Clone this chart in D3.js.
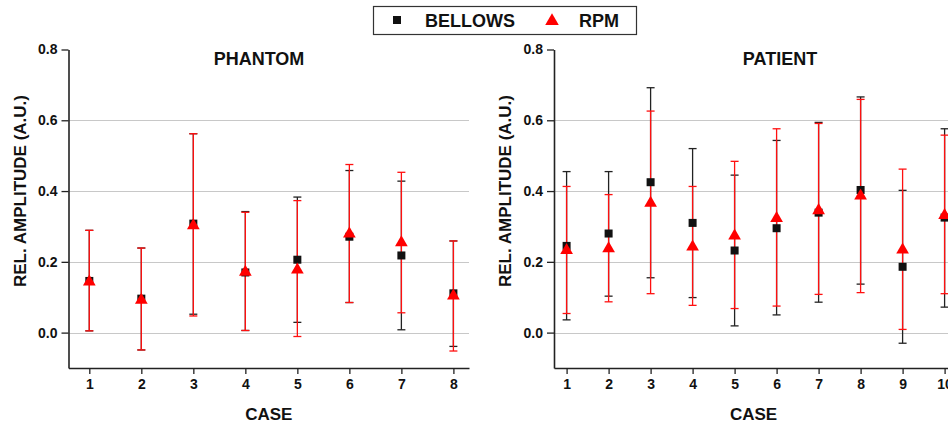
<!DOCTYPE html>
<html>
<head>
<meta charset="utf-8">
<script src="https://cdn.jsdelivr.net/npm/d3@7"></script>
<style>
  body { margin: 0; background: #fff; }
  svg text { font-family: "Liberation Sans", Arial, sans-serif; font-weight: bold; fill: #111; }
  .grid line { stroke: #c8c8c8; stroke-width: 1; }
  .axis path, .axis line { stroke: #222; }
  .axis path { stroke-width: 1.6; }
  .axis line { stroke-width: 1.3; }
</style>
</head>
<body>
<div id="viz_container"></div>
<script>
// data
const phantomCases = [1, 2, 3, 4, 5, 6, 7, 8];
const phantomBellows = [0.146, 0.096, 0.308, 0.170, 0.206, 0.271, 0.218, 0.111];
const phantomBellowsLo = [0.005, -0.049, 0.052, 0.006, 0.029, 0.085, 0.008, -0.039];
const phantomBellowsHi = [0.289, 0.239, 0.562, 0.342, 0.383, 0.458, 0.428, 0.259];
const phantomRpm = [0.146, 0.095, 0.305, 0.174, 0.180, 0.282, 0.257, 0.107];
const phantomRpmLo = [0.005, -0.049, 0.047, 0.006, -0.011, 0.085, 0.056, -0.052];
const phantomRpmHi = [0.289, 0.239, 0.562, 0.340, 0.373, 0.475, 0.453, 0.259];

const patientCases = [1, 2, 3, 4, 5, 6, 7, 8, 9, 10];
const patientBellows = [0.245, 0.280, 0.425, 0.310, 0.232, 0.295, 0.339, 0.403, 0.186, 0.325];
const patientBellowsLo = [0.036, 0.103, 0.155, 0.099, 0.019, 0.050, 0.086, 0.137, -0.030, 0.072];
const patientBellowsHi = [0.455, 0.455, 0.692, 0.520, 0.445, 0.543, 0.594, 0.666, 0.402, 0.576];
const patientRpm = [0.235, 0.240, 0.369, 0.245, 0.276, 0.326, 0.348, 0.389, 0.237, 0.334];
const patientRpmLo = [0.054, 0.087, 0.110, 0.077, 0.068, 0.075, 0.108, 0.113, 0.009, 0.110];
const patientRpmHi = [0.413, 0.390, 0.626, 0.413, 0.484, 0.576, 0.591, 0.659, 0.462, 0.558];

const yTicks = [0.0, 0.2, 0.4, 0.6, 0.8];
const gridTicks = [0.0, 0.2, 0.4, 0.6];

const svg = d3.select("#viz_container")
  .append("svg")
    .attr("width", 948)
    .attr("height", 425);

const yScale = d3.scaleLinear().domain([-0.1, 0.8]).range([368, 49.5]);

function panel(opts) {
  const xScale = d3.scaleLinear().domain(opts.xDomain).range(opts.xRange);
  const g = svg.append("g");

  // horizontal grid lines
  g.append("g")
    .attr("class", "grid")
    .selectAll("line")
    .data(gridTicks)
    .join("line")
      .attr("x1", opts.xRange[0])
      .attr("x2", opts.xRange[1])
      .attr("y1", d => Math.round(yScale(d)) + 0.5)
      .attr("y2", d => Math.round(yScale(d)) + 0.5);

  // axes
  g.append("g")
    .attr("class", "axis")
    .attr("transform", `translate(${opts.xRange[0]},0)`)
    .call(d3.axisLeft(yScale).tickValues(yTicks).tickFormat(d3.format(".1f")).tickSizeInner(7).tickSizeOuter(0).tickPadding(4))
    .call(a => a.selectAll("text").style("font-size", "14px").style("font-family", "Liberation Sans, Arial").style("font-weight", "bold").attr("fill", "#111"));

  g.append("g")
    .attr("class", "axis")
    .attr("transform", `translate(0,${yScale(-0.1)})`)
    .call(d3.axisBottom(xScale).tickValues(opts.cases).tickFormat(d3.format("d")).tickSizeInner(6).tickSizeOuter(0).tickPadding(5))
    .call(a => a.selectAll("text").style("font-size", "14px").style("font-family", "Liberation Sans, Arial").style("font-weight", "bold").attr("fill", "#111"));

  // error bars, black first then red on top
  const series = [
    {lo: opts.bLo, hi: opts.bHi, color: "#222"},
    {lo: opts.rLo, hi: opts.rHi, color: "#ff1010"}
  ];
  series.forEach(s => {
    const eg = g.append("g").attr("stroke", s.color).attr("stroke-width", 1.3);
    eg.append("g").selectAll("line")
      .data(opts.cases)
      .join("line")
        .attr("x1", (d) => xScale(d))
        .attr("x2", (d) => xScale(d))
        .attr("y1", (d, i) => yScale(s.lo[i]))
        .attr("y2", (d, i) => yScale(s.hi[i]));
    eg.append("g").selectAll("line")
      .data(opts.cases)
      .join("line")
        .attr("x1", (d) => xScale(d) - 4)
        .attr("x2", (d) => xScale(d) + 4)
        .attr("y1", (d, i) => yScale(s.hi[i]))
        .attr("y2", (d, i) => yScale(s.hi[i]));
    eg.append("g").selectAll("line")
      .data(opts.cases)
      .join("line")
        .attr("x1", (d) => xScale(d) - 4)
        .attr("x2", (d) => xScale(d) + 4)
        .attr("y1", (d, i) => yScale(s.lo[i]))
        .attr("y2", (d, i) => yScale(s.lo[i]));
  });

  // markers
  g.append("g").selectAll("rect")
    .data(opts.cases)
    .join("rect")
      .attr("x", d => xScale(d) - 4)
      .attr("y", (d, i) => yScale(opts.bellows[i]) - 4)
      .attr("width", 8)
      .attr("height", 8)
      .attr("fill", "#111");

  const tri = d3.symbol().type(d3.symbolTriangle).size(70);
  g.append("g").selectAll("path")
    .data(opts.cases)
    .join("path")
      .attr("d", tri)
      .attr("transform", (d, i) => `translate(${xScale(d)},${yScale(opts.rpm[i]) + 1})`)
      .attr("fill", "#ff0000");

  // titles
  g.append("text")
    .attr("x", opts.titleX)
    .attr("y", 65)
    .attr("text-anchor", "middle")
    .style("font-size", "18px")
    .text(opts.title);

  g.append("text")
    .attr("x", (opts.xRange[0] + opts.xRange[1]) / 2)
    .attr("y", 420)
    .attr("text-anchor", "middle")
    .style("font-size", "17px")
    .text("CASE");

  g.append("text")
    .attr("transform", `translate(${opts.yLabelX},${yScale(0.4)}) rotate(-90)`)
    .attr("text-anchor", "middle")
    .style("font-size", "17px")
    .text("REL. AMPLITUDE (A.U.)");
}

panel({
  title: "PHANTOM", titleX: 259, yLabelX: 26,
  cases: phantomCases, xDomain: [0.6, 8.3], xRange: [68.5, 469],
  bellows: phantomBellows, bLo: phantomBellowsLo, bHi: phantomBellowsHi,
  rpm: phantomRpm, rLo: phantomRpmLo, rHi: phantomRpmHi
});

panel({
  title: "PATIENT", titleX: 780, yLabelX: 511,
  cases: patientCases, xDomain: [0.7, 10.2], xRange: [554, 953],
  bellows: patientBellows, bLo: patientBellowsLo, bHi: patientBellowsHi,
  rpm: patientRpm, rLo: patientRpmLo, rHi: patientRpmHi
});

// legend
const legend = svg.append("g");
legend.append("rect")
  .attr("x", 373.5).attr("y", 6.5)
  .attr("width", 263).attr("height", 28)
  .attr("fill", "#fff").attr("stroke", "#333").attr("stroke-width", 1.2);
legend.append("rect")
  .attr("x", 393).attr("y", 16).attr("width", 8).attr("height", 8).attr("fill", "#111");
legend.append("text")
  .attr("x", 425).attr("y", 27).style("font-size", "18px").text("BELLOWS");
legend.append("path")
  .attr("d", d3.symbol().type(d3.symbolTriangle).size(80))
  .attr("transform", "translate(552,21)")
  .attr("fill", "#ff0000");
legend.append("text")
  .attr("x", 579).attr("y", 27).style("font-size", "18px").text("RPM");
</script>
</body>
</html>
